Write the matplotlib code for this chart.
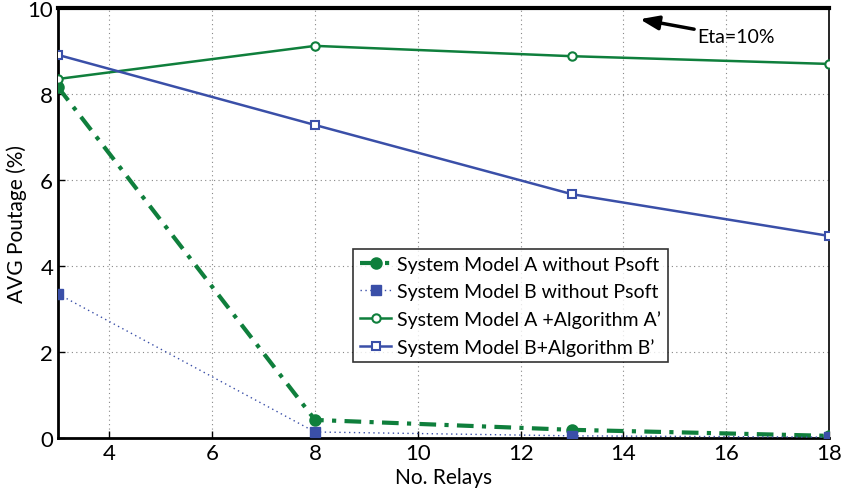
import matplotlib
matplotlib.use("Agg")
import matplotlib.pyplot as plt

relays = [3, 8, 13, 18]
a_without_psoft = [8.16, 0.42, 0.19, 0.05]
b_without_psoft = [3.35, 0.14, 0.05, 0.02]
a_algorithm = [8.35, 9.12, 8.88, 8.70]
b_algorithm = [8.91, 7.28, 5.67, 4.70]
eta = 10
xticks = [4, 6, 8, 10, 12, 14, 16, 18]
yticks = [0, 2, 4, 6, 8, 10]

plt.rcParams["font.family"] = ["Lato", "DejaVu Sans"]

green = "#0f7f3c"
blue = "#3a4fa8"

fig = plt.figure(figsize=(8.41, 5.02), dpi=100)
ax = fig.add_axes([0.069, 0.1255, 0.9167, 0.8565])

ax.plot(relays, a_without_psoft, color=green, lw=3, ls=(0, (4, 2, 1, 2)),
        marker="o", ms=7, mfc=green, mec=green, mew=2,
        label="System Model A without Psoft", zorder=4)
ax.plot(relays, b_without_psoft, color=blue, lw=1, ls=(0, (1, 2.5)),
        marker="s", ms=7, mfc=blue, mec=blue,
        label="System Model B without Psoft", zorder=4)
ax.plot(relays, a_algorithm, color=green, lw=1.8, ls="-",
        marker="o", ms=6, mfc="white", mec=green, mew=1.5,
        label="System Model A +Algorithm A\u2019", zorder=4)
ax.plot(relays, b_algorithm, color=blue, lw=1.8, ls="-",
        marker="s", ms=6, mfc="white", mec=blue, mew=1.5,
        label="System Model B+Algorithm B\u2019", zorder=4)

ax.plot([relays[0], relays[-1]], [eta, eta], color="black", lw=3, zorder=5,
        clip_on=False)
ax.annotate("Eta=10%", xy=(14.32, 9.74), xytext=(15.43, 9.33),
            fontsize=14, va="center", ha="left",
            arrowprops=dict(arrowstyle="-|>,head_length=0.8,head_width=0.3",
                            color="black", lw=2.5, shrinkA=0, shrinkB=0))

ax.set_xlim(3, 18)
ax.set_ylim(0, 10)
ax.set_xticks(xticks)
ax.set_yticks(yticks)
ax.tick_params(direction="in", labelsize=16, length=5, width=1)
ax.grid(True, ls=(0, (1, 3)), color="#888888", lw=0.8)

for side in ["left", "bottom"]:
    ax.spines[side].set_linewidth(2)
ax.spines["right"].set_linewidth(1.2)
ax.spines["top"].set_linewidth(1.2)

ax.set_xlabel("No. Relays", fontsize=15, labelpad=3)
ax.set_ylabel("AVG Poutage (%)", fontsize=15, labelpad=0)

leg = ax.legend(loc="upper left", bbox_to_anchor=(0.383, 0.44), fontsize=14,
                frameon=True, fancybox=False, edgecolor="black",
                handlelength=1.6, handletextpad=0.3, borderpad=0.35,
                borderaxespad=0, labelspacing=0.52)
leg.get_frame().set_linewidth(1.2)

fig.savefig("out.png", dpi=100)
